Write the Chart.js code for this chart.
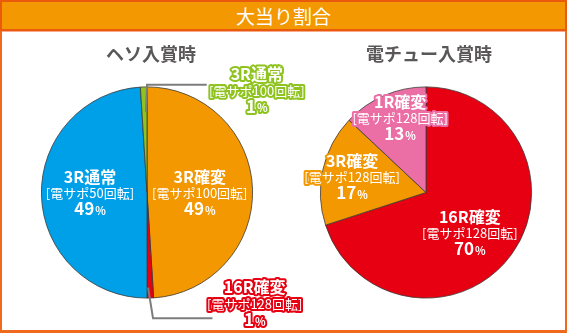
<!DOCTYPE html>
<html>
<head>
<meta charset="utf-8">
<script src="https://cdn.jsdelivr.net/npm/chart.js@4"></script>
<style>
  html, body { margin: 0; padding: 0; background: #fff; }
  #wrap {
    position: relative; width: 567px; height: 333px; overflow: hidden;
    font-family: "Noto Sans CJK JP", "Noto Sans", sans-serif;
  }
  #frame {
    position: absolute; left: 0; top: 0; width: 563px; height: 330px;
    border-left: 2px solid #f06a1e; border-right: 2px solid #f06a1e; border-bottom: 3px solid #f06a1e;
  }
  #head {
    position: absolute; left: 0; top: 0; width: 563px; height: 27px;
    background: #f39800; border: 2px solid #ea5a0c;
    color: #fff; font-size: 19px; line-height: 27px; text-align: center;
  }
  #head:after {
    content: ""; position: absolute; left: 0; right: 0; top: 29px; height: 1px; background: #f7a98a;
  }
  .ttl {
    position: absolute; top: 41px; width: 200px; text-align: center;
    font-size: 18px; font-weight: bold; color: #595757; line-height: 24px;
  }
  canvas { position: absolute; top: 0; }
</style>
</head>
<body>
<div id="wrap">
  <canvas id="heso" width="330" height="333" style="left:0"></canvas>
  <canvas id="denchu" width="284" height="333" style="left:283px"></canvas>
  <div id="frame"></div>
  <div id="head">大当り割合</div>
  <div class="ttl" style="left:51px">ヘソ入賞時</div>
  <div class="ttl" style="left:329px">電チュー入賞時</div>
</div>
<script>
// ヘソ入賞時
const hesoNames = ["3R確変", "16R確変", "3R通常", "3R通常"];
const hesoSapo = ["[電サポ100回転]", "[電サポ128回転]", "[電サポ50回転]", "[電サポ100回転]"];
const hesoValues = [49, 1, 49, 1];
const hesoColors = ["#f39800", "#e60012", "#00a0e9", "#8fc31f"];

// 電チュー入賞時
const denchuNames = ["16R確変", "3R確変", "1R確変"];
const denchuSapo = ["[電サポ128回転]", "[電サポ128回転]", "[電サポ128回転]"];
const denchuValues = [70, 17, 13];
const denchuColors = ["#e60012", "#f39800", "#eb6ea5"];

const FONT = '"Noto Sans CJK JP", "Noto Sans", sans-serif';

// ラベルと引き出し線 (位置は円の中心からの半径比)
const sliceLabels = {
  id: "sliceLabels",
  afterDatasetsDraw(chart, args, opts) {
    const ctx = chart.ctx;
    const arc = chart.getDatasetMeta(0).data[0];
    const cx = arc.x, cy = arc.y, r = arc.outerRadius;
    const ds = chart.data.datasets[0];

    ctx.save();
    ctx.strokeStyle = "#7d7d7d";
    ctx.lineWidth = 2;
    (opts.leaders || []).forEach(pts => {
      ctx.beginPath();
      pts.forEach((p, i) => {
        const x = cx + p[0] * r, y = cy + p[1] * r;
        i ? ctx.lineTo(x, y) : ctx.moveTo(x, y);
      });
      ctx.stroke();
    });

    ctx.textBaseline = "middle";
    ctx.lineJoin = "round";
    ctx.lineWidth = 4;
    opts.labels.forEach((lb, i) => {
      const x = cx + lb.pos[0] * r, y = cy + lb.pos[1] * r;
      const outline = lb.outline ? ds.backgroundColor[i] : null;
      const text = (s, tx, ty, font, align) => {
        ctx.font = font;
        ctx.textAlign = align;
        if (outline) { ctx.strokeStyle = outline; ctx.strokeText(s, tx, ty); }
        ctx.fillStyle = "#fff";
        ctx.fillText(s, tx, ty);
      };
      text(chart.data.labels[i], x, y - 16, "bold 16px " + FONT, "center");
      text(opts.sapo[i], x, y + 0.5, "13px " + FONT, "center");
      // 49% : 数字は大きく、% は小さく
      const num = String(ds.data[i]);
      ctx.font = "bold 17px " + FONT;
      const wNum = ctx.measureText(num).width;
      ctx.font = "bold 11px " + FONT;
      const wPct = ctx.measureText("%").width;
      const left = x - (wNum + wPct + 1) / 2;
      text(num, left, y + 16, "bold 17px " + FONT, "left");
      text("%", left + wNum + 1, y + 18, "bold 11px " + FONT, "left");
    });
    ctx.restore();
  }
};

function pie(id, names, values, colors, pad, pluginOpts) {
  return new Chart(document.getElementById(id), {
    type: "pie",
    data: {
      labels: names,
      datasets: [{
        data: values,
        backgroundColor: colors,
        borderColor: "#3e3a39",
        borderWidth: 0.8
      }]
    },
    options: {
      responsive: false,
      devicePixelRatio: 1,
      animation: false,
      layout: { padding: pad },
      plugins: {
        legend: { display: false },
        tooltip: { enabled: false },
        sliceLabels: pluginOpts
      }
    },
    plugins: [sliceLabels]
  });
}

pie("heso", hesoNames, hesoValues, hesoColors,
  { left: 41, right: 77, top: 86, bottom: 34 },
  {
    sapo: hesoSapo,
    labels: [
      { pos: [0.50, 0.0] },
      { pos: [1.02, 1.05], outline: true },
      { pos: [-0.54, 0.0] },
      { pos: [1.04, -0.97], outline: true }
    ],
    leaders: [
      [[0.01, 0.90], [0.057, 1.19], [0.62, 1.19]],
      [[-0.01, -0.76], [0.0, -1.02], [0.566, -1.02]]
    ]
  });

pie("denchu", denchuNames, denchuValues, denchuColors,
  { left: 37, right: 35, top: 86, bottom: 34 },
  {
    sapo: denchuSapo,
    labels: [
      { pos: [0.415, 0.38] },
      { pos: [-0.70, -0.15], outline: true },
      { pos: [-0.245, -0.71], outline: true }
    ]
  });
</script>
</body>
</html>
